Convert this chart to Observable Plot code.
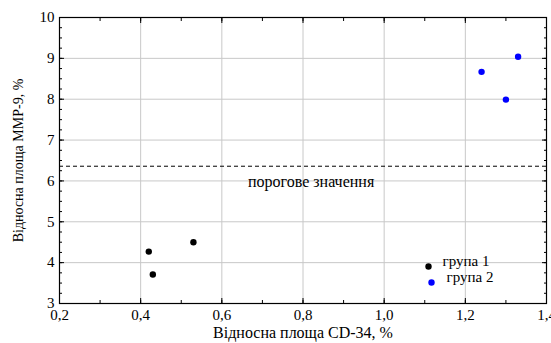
<!DOCTYPE html>
<html><head><meta charset="utf-8">
<script src="https://cdn.jsdelivr.net/npm/d3@7"></script>
<script src="https://cdn.jsdelivr.net/npm/@observablehq/plot@0.6"></script>
<style>
body{margin:0;background:#fff;}
svg, svg text{font-family:"Liberation Serif","Times New Roman",serif !important;}
</style></head>
<body><div id="chart"></div>
<script>
const group1X = [0.42, 0.43, 0.53];
const group1Y = [4.27, 3.71, 4.50];
const group2X = [1.24, 1.33, 1.30];
const group2Y = [8.67, 9.04, 7.99];
const threshold = 6.36;
const thresholdLabel = "порогове значення";
const xTicks = [0.2, 0.4, 0.6, 0.8, 1.0, 1.2, 1.4];
const yTicks = [3, 4, 5, 6, 7, 8, 9, 10];
const xMinor = d3.range(2, 15).map(d => d / 10);
const yMinor = d3.range(12, 41).map(d => d / 4);
const groupNames = ["група 1", "група 2"];
const groupColors = ["#000000", "#0000ff"];
const xLabel = "Відносна площа CD-34, %";
const yLabel = "Відносна площа MMP-9, %";

const FF = "Liberation Serif";
const points = [
  ...group1X.map((x, i) => ({x, y: group1Y[i], g: groupNames[0]})),
  ...group2X.map((x, i) => ({x, y: group2Y[i], g: groupNames[1]}))
];
const fmt = d => d3.format(".1f")(d).replace(".", ",");
const none = () => "";

const legendMarks = groupNames.flatMap((name, i) => [
  Plot.dot([name], {frameAnchor: "bottom-right", r: 3.2, fill: groupColors[i], stroke: "none", dx: -118 + 3 * i, dy: -37 + 16 * i}),
  Plot.text([name], {frameAnchor: "bottom-right", text: d => d, textAnchor: "start", fontSize: 15, fontFamily: FF, dx: -104 + 4 * i, dy: -38 + 16 * i})
]);

const chart = Plot.plot({
  width: 551, height: 343,
  marginLeft: 59, marginRight: 5, marginTop: 17, marginBottom: 40,
  x: {domain: [0.2, 1.4]},
  y: {domain: [3, 10]},
  style: {fontFamily: "'Liberation Serif', serif", fontSize: "15px", color: "#000"},
  marks: [
    Plot.gridX(xTicks.slice(1, -1), {stroke: "#c8c8c8", strokeOpacity: 1, strokeWidth: 1}),
    Plot.gridY(yTicks.slice(1, -1), {stroke: "#c8c8c8", strokeOpacity: 1, strokeWidth: 1}),
    Plot.ruleY([threshold], {stroke: "#000", strokeDasharray: "4,3", strokeWidth: 1}),
    Plot.text([thresholdLabel], {x: 0.82, y: threshold, text: d => d, dy: 16, fontSize: 16, fontFamily: FF}),
    // tick labels
    Plot.axisX(xTicks, {tickSize: 0, tickPadding: 6, tickFormat: fmt, fontSize: 15, fontFamily: FF, label: null}),
    Plot.axisY(yTicks, {tickSize: 0, tickPadding: 5, tickFormat: d => d, fontSize: 15, fontFamily: FF, label: null}),
    // axis titles
    Plot.axisX(xTicks, {tickSize: 0, tickFormat: none, fontSize: 16, fontFamily: FF, label: xLabel, labelAnchor: "center", labelArrow: "none", labelOffset: 34}),
    Plot.axisY(yTicks, {tickSize: 0, tickFormat: none, fontSize: 14, fontFamily: FF, label: yLabel, labelAnchor: "center", labelArrow: "none", labelOffset: 46}),
    // inward ticks
    Plot.axisX(xTicks, {tickSize: -5, tickFormat: none, label: null}),
    Plot.axisX(xMinor, {tickSize: -3, tickFormat: none, label: null}),
    Plot.axisX(xTicks, {anchor: "top", tickSize: -5, tickFormat: none, label: null}),
    Plot.axisX(xMinor, {anchor: "top", tickSize: -3, tickFormat: none, label: null}),
    Plot.axisY(yTicks, {tickSize: -5, tickFormat: none, label: null}),
    Plot.axisY(yMinor, {tickSize: -3, tickFormat: none, label: null}),
    Plot.axisY(yTicks, {anchor: "right", tickSize: -5, tickFormat: none, label: null}),
    Plot.axisY(yMinor, {anchor: "right", tickSize: -3, tickFormat: none, label: null}),
    Plot.frame({stroke: "#000", strokeWidth: 1.2}),
    Plot.dot(points, {x: "x", y: "y", r: 3.2, fill: d => d.g === groupNames[0] ? groupColors[0] : groupColors[1], stroke: "none"}),
    ...legendMarks
  ]
});
document.getElementById("chart").appendChild(chart);
</script></body></html>
